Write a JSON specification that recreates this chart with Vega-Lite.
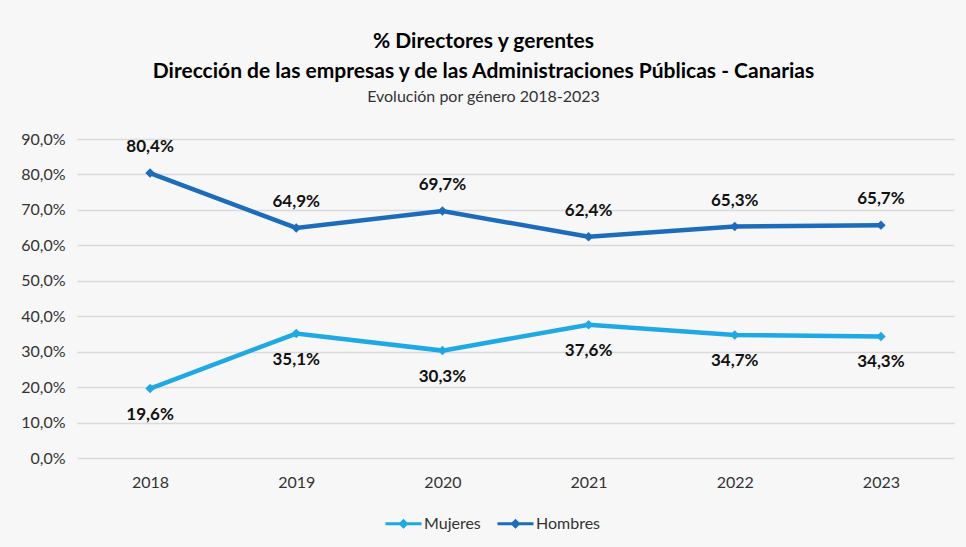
{
  "$schema": "https://vega.github.io/schema/vega-lite/v6.json",
  "autosize": "none",
  "width": 877,
  "height": 319,
  "padding": {"left": 77, "top": 139, "right": 12, "bottom": 89},
  "background": "#f7f7f7",
  "config": {
    "locale": {"number": {"decimal": ",", "thousands": ".", "grouping": [3], "currency": ["", " €"]}},
    "font": "Lato",
    "view": {"stroke": null}
  },
  "title": {
    "text": ["% Directores y gerentes", "Dirección de las empresas y de las Administraciones Públicas - Canarias"],
    "subtitle": "Evolución por género 2018-2023",
    "anchor": "middle",
    "dx": -32,
    "fontSize": 21,
    "fontWeight": "bold",
    "lineHeight": 30,
    "color": "#000000",
    "subtitleFontSize": 16,
    "subtitleColor": "#333333",
    "subtitlePadding": 7,
    "offset": 26
  },
  "data": {
    "values": [
      {"year": "2018", "genero": "Hombres", "value": 0.804},
      {"year": "2019", "genero": "Hombres", "value": 0.649},
      {"year": "2020", "genero": "Hombres", "value": 0.697},
      {"year": "2021", "genero": "Hombres", "value": 0.624},
      {"year": "2022", "genero": "Hombres", "value": 0.653},
      {"year": "2023", "genero": "Hombres", "value": 0.657},
      {"year": "2018", "genero": "Mujeres", "value": 0.196},
      {"year": "2019", "genero": "Mujeres", "value": 0.351},
      {"year": "2020", "genero": "Mujeres", "value": 0.303},
      {"year": "2021", "genero": "Mujeres", "value": 0.376},
      {"year": "2022", "genero": "Mujeres", "value": 0.347},
      {"year": "2023", "genero": "Mujeres", "value": 0.343}
    ]
  },
  "encoding": {
    "x": {
      "field": "year", "type": "ordinal",
      "scale": {"type": "point", "padding": 0.5},
      "axis": {"title": null, "labelAngle": 0, "ticks": false, "domain": false, "labelFontSize": 16, "labelColor": "#333333", "labelPadding": 16}
    },
    "y": {
      "field": "value", "type": "quantitative",
      "scale": {"domain": [0, 0.9]},
      "axis": {"title": null, "values": [0, 0.1, 0.2, 0.3, 0.4, 0.5, 0.6, 0.7, 0.8, 0.9], "format": ".1%", "ticks": false, "domain": false, "labelFontSize": 16, "labelColor": "#333333", "labelPadding": 12, "gridColor": "#dadada", "gridWidth": 1.5}
    },
    "color": {
      "field": "genero", "type": "nominal",
      "scale": {"domain": ["Mujeres", "Hombres"], "range": ["#1ea8e4", "#1c6cbb"]},
      "legend": {
        "title": null, "orient": "none", "direction": "horizontal", "legendX": 308, "legendY": 366,
        "labelFontSize": 16, "labelColor": "#333333", "labelOffset": 2, "columnPadding": 16,
        "symbolType": "M-1,-0.09L1,-0.09L1,0.09L-1,0.09Z M0,-0.28L0.28,0L0,0.28L-0.28,0Z",
        "symbolSize": 1300, "symbolStrokeWidth": 0,
        "encode": {"symbols": {"update": {"fill": {"scale": "color", "field": "value"}, "stroke": {"value": "transparent"}, "opacity": {"value": 1}}}}
      }
    }
  },
  "layer": [
    {"mark": {"type": "line", "strokeWidth": 4.5}},
    {"mark": {"type": "point", "shape": "diamond", "size": 90, "filled": true, "opacity": 1}},
    {
      "transform": [{"filter": "datum.genero == 'Hombres'"}],
      "mark": {"type": "text", "dy": -26, "fontSize": 17, "fontWeight": "bold"},
      "encoding": {"text": {"field": "value", "type": "quantitative", "format": ".1%"}, "color": {"value": "#111111"}}
    },
    {
      "transform": [{"filter": "datum.genero == 'Mujeres'"}],
      "mark": {"type": "text", "dy": 26, "fontSize": 17, "fontWeight": "bold"},
      "encoding": {"text": {"field": "value", "type": "quantitative", "format": ".1%"}, "color": {"value": "#111111"}}
    }
  ]
}
